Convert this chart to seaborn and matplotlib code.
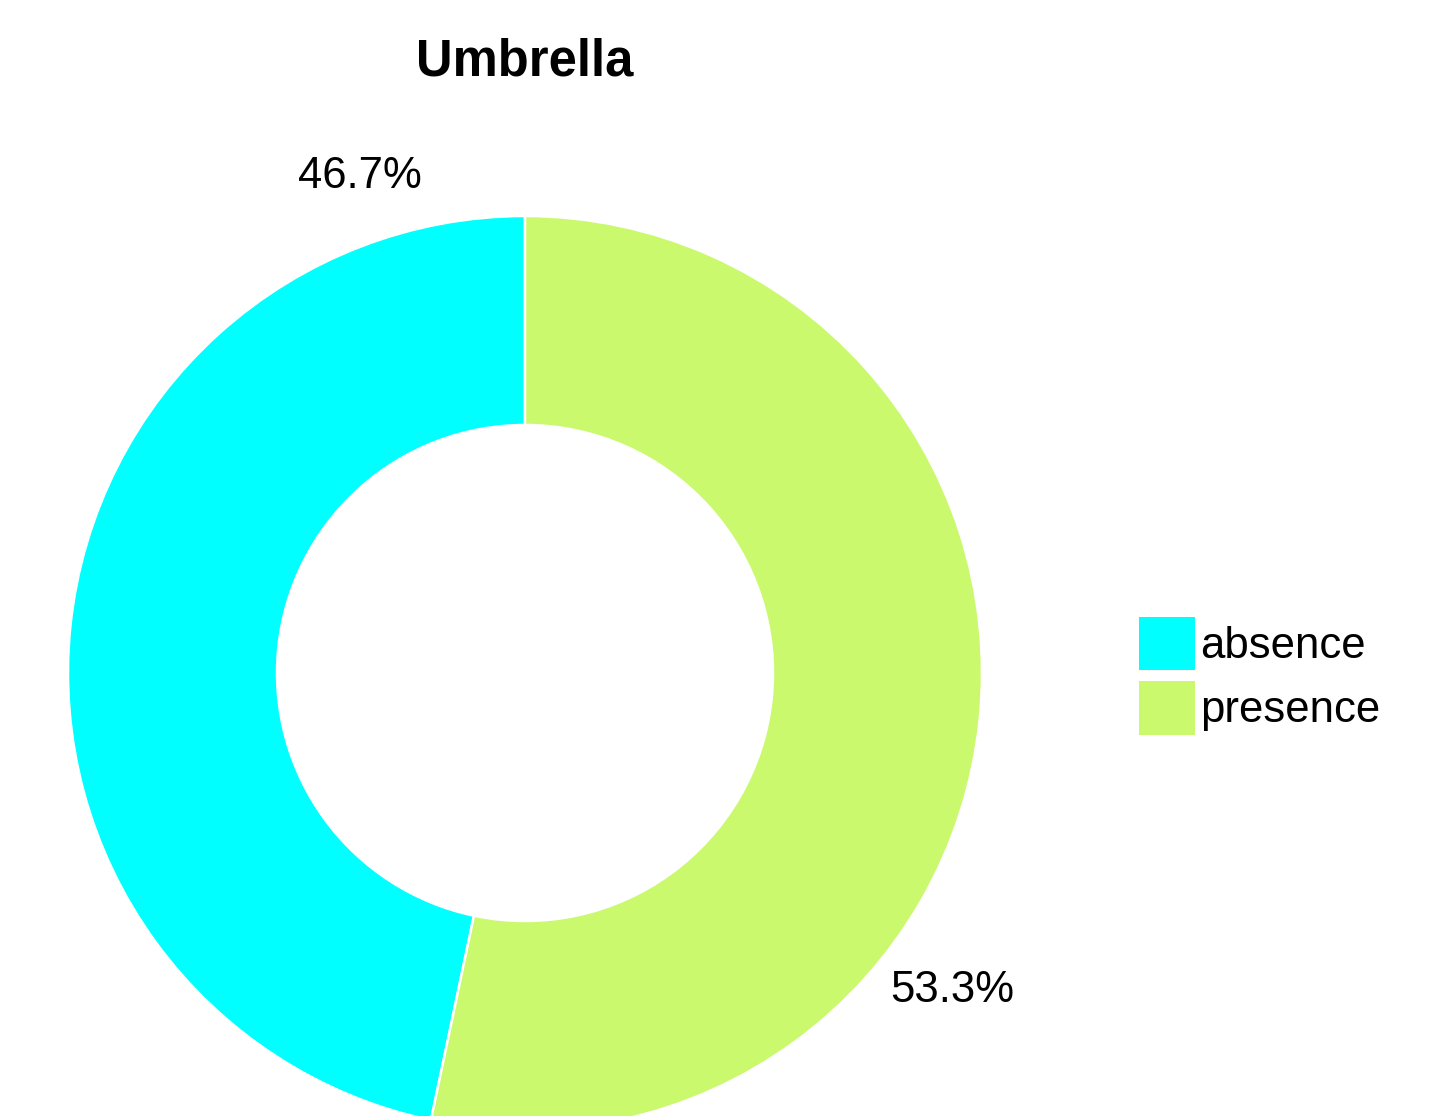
import matplotlib
matplotlib.use("Agg")
import matplotlib.pyplot as plt
import seaborn as sns

# Share of umbrella presence vs absence
categories = ["absence", "presence"]
shares = [46.7, 53.3]
colors = ["#00FFFF", "#CAF96E"]
title = "Umbrella"

sns.set_theme(style="white")
plt.rcParams["font.family"] = ["Liberation Sans", "DejaVu Sans"]

W, H = 1451, 1116
fig = plt.figure(figsize=(W / 100, H / 100), dpi=100)
ax = fig.add_axes([0, 0, 1, 1])

# Axes units follow figure pixels (y measured upward)
cx, cy = 525, H - 673
outer = 457
ring = 209

wedges, _ = ax.pie(
    shares,
    colors=colors,
    startangle=90,
    counterclock=True,
    center=(cx, cy),
    radius=outer,
    wedgeprops=dict(width=ring, edgecolor="white", linewidth=1.8),
)
ax.set_xlim(0, W)
ax.set_ylim(0, H)
ax.set_aspect("equal")
ax.axis("off")

# Percentage labels
label_pos = [(360, H - 176), (952, H - 991)]
for (x, y), v in zip(label_pos, shares):
    ax.text(x, y, f"{v:.1f}%", ha="center", va="center", fontsize=31.5, color="black")

fig.text(525 / W, 1 - 62 / H, title, ha="center", va="center",
         fontsize=36.5, fontweight="bold", color="black")

leg = ax.legend(
    wedges, categories,
    loc="upper left",
    bbox_to_anchor=(1139 / W, 1 - 617 / H),
    bbox_transform=fig.transFigure,
    frameon=False,
    fontsize=31.5,
    labelcolor="black",
    handlelength=1.27,
    handleheight=1.5,
    handletextpad=0.12,
    labelspacing=0.25,
    borderpad=0,
    borderaxespad=0,
)
for h in leg.legend_handles:
    h.set_edgecolor("none")

fig.savefig("out.png", dpi=100, facecolor="white")
